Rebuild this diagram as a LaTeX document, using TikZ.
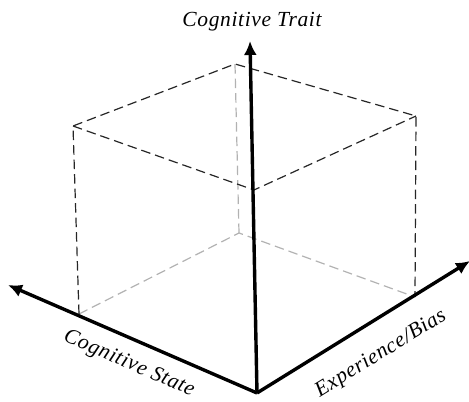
\documentclass[tikz,border=0pt]{standalone}
\usepackage{fontspec}
\setmainfont{Liberation Serif}
\usetikzlibrary{arrows.meta}
\begin{document}
\begin{tikzpicture}[x=1pt,y=1pt,
  axis/.style={line width=3.4pt,-{Latex[length=14pt,width=13pt]}},
  front/.style={dashed,dash pattern=on 9.5pt off 5pt,line width=1.2pt,black!85},
  back/.style={dashed,dash pattern=on 9.5pt off 5pt,line width=1.2pt,black!30},
  lab/.style={font=\itshape\fontsize{21.5}{24}\selectfont\addfontfeature{LetterSpace=3},inner sep=0pt}]
\useasboundingbox (0,0) rectangle (469,402);
% cube corners
\coordinate (A) at (79,88);
\coordinate (C) at (415,105);
\coordinate (B) at (239,169);
\coordinate (At) at (73,276);
\coordinate (Bt) at (235,338);
\coordinate (Ct) at (416,286);
\coordinate (Ft) at (254,212);
\coordinate (O) at (257,9);
\coordinate (T) at (250,361);
\coordinate (L) at (8,117);
\coordinate (R) at (470,141);
% hidden edges
\draw[back] (A) -- (B) -- (C);
\draw[back] (B) -- (Bt);
% visible edges
\draw[front] (A) -- (At) -- (Bt) -- (Ct) -- (C);
\draw[front] (At) -- (Ft) -- (Ct);
% axes
\draw[axis] (O) -- (T);
\draw[axis] (O) -- (L);
\draw[axis] (O) -- (R);
% labels
\node[lab] (lt) at (252,380) {Cognitive Trait};
\node[lab,rotate=-23.4] (ls) at (129,38) {Cognitive State};
\node[lab,rotate=31.7] (lr) at (381,48) {Experience/Bias};
\end{tikzpicture}
\end{document}
